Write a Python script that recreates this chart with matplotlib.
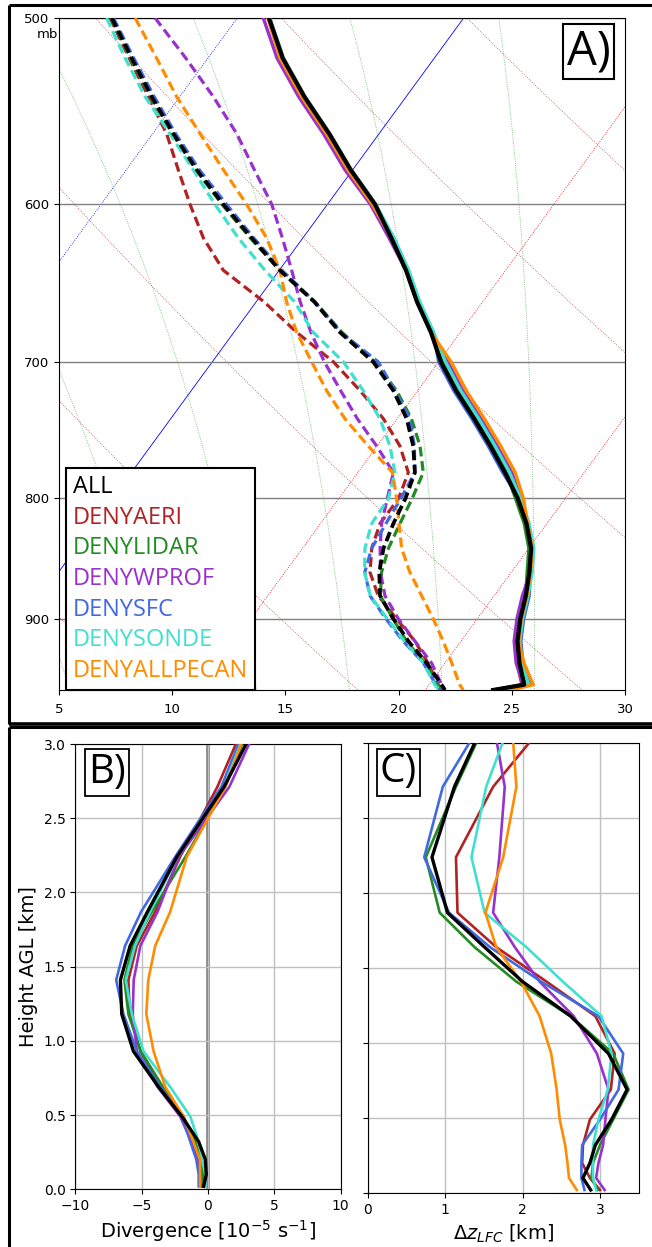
import numpy as np
import matplotlib.pyplot as plt
from matplotlib.lines import Line2D
from matplotlib.ticker import NullLocator

W, H = 652, 1247

names = ['ALL', 'DENYAERI', 'DENYLIDAR', 'DENYWPROF', 'DENYSFC', 'DENYSONDE', 'DENYALLPECAN']
colors = ['black', 'firebrick', 'forestgreen', 'darkorchid', 'royalblue', 'turquoise', 'darkorange']

# skew-T profiles: pressure [mb], temperature / dewpoint [degC]
pres = [500, 520, 540, 560, 580, 600, 620, 640, 660, 680, 700, 720, 740,
        760, 780, 800, 820, 840, 860, 880, 900, 920, 940, 960, 965]

temp_all = [-8.6, -6.7, -4.5, -2.2, -0.1, 2.1, 3.9, 5.6, 7.1, 8.7, 10.1, 11.7, 13.4,
            15.0, 16.5, 17.9, 19.1, 20.1, 20.8, 21.4, 21.9, 22.5, 23.3, 24.2, 23.0]
temp_aeri = [-8.57, -6.67, -4.47, -2.17, -0.07, 2.13, 3.93, 5.63, 7.13, 8.73, 10.2, 11.8, 13.5,
             15.1, 16.6, 17.9, 19.1, 20.1, 20.8, 21.3, 21.8, 22.4, 23.2, 24.1, 23.0]
temp_lidar = [-8.6, -6.7, -4.5, -2.2, -0.1, 2.1, 3.9, 5.6, 7.1, 8.7, 10.15, 11.75, 13.45,
              15.05, 16.55, 17.8, 19.0, 20.0, 20.7, 21.4, 21.9, 22.5, 23.3, 24.25, 23.2]
temp_wprof = [-8.85, -6.95, -4.75, -2.45, -0.35, 1.9, 3.8, 5.6, 7.1, 8.7, 10.4, 12.0, 13.7,
              15.3, 16.8, 18.05, 19.15, 20.15, 20.85, 21.25, 21.75, 22.35, 23.15, 24.15, 23.1]
temp_sfc = [-8.6, -6.7, -4.5, -2.2, -0.1, 2.1, 4.0, 5.7, 7.2, 8.8, 10.0, 11.6, 13.3,
            14.9, 16.4, 17.95, 19.15, 20.15, 20.85, 21.55, 22.05, 22.65, 23.45, 24.5, 23.4]
temp_sonde = [-8.57, -6.67, -4.47, -2.17, -0.07, 2.13, 4.02, 5.72, 7.22, 8.82, 10.3, 11.9, 13.6,
              15.2, 16.7, 18.02, 19.22, 20.22, 20.92, 21.5, 22.0, 22.6, 23.4, 24.4, 23.3]
temp_pecan = [-8.65, -6.82, -4.62, -2.32, -0.22, 1.98, 3.9, 5.6, 7.1, 8.7, 10.55, 12.15, 13.85,
              15.45, 16.95, 18.15, 19.15, 20.15, 20.85, 21.45, 21.95, 22.55, 23.5, 24.6, 23.8]

dwpt_all = [-15.54, -13.37, -11.24, -9.08, -6.9, -4.6, -2.27, 0.03, 2.56, 4.68, 7.11, 8.93, 10.42,
            11.59, 12.52, 12.94, 13.22, 13.58, 14.17, 14.96, 16.29, 17.68, 19.2, 20.55, 20.87]
dwpt_aeri = [-15.62, -13.48, -11.39, -9.38, -7.71, -6.07, -4.4, -2.47, 0.34, 2.77, 5.35, 7.46, 9.39,
             11.0, 12.23, 12.64, 12.63, 13.06, 13.76, 14.88, 16.43, 17.97, 19.26, 20.4, 20.72]
dwpt_lidar = [-15.57, -13.43, -11.28, -9.13, -6.93, -4.66, -2.33, 0.02, 2.59, 4.77, 7.18, 9.07, 10.63,
              11.89, 12.89, 13.24, 13.51, 13.8, 14.27, 14.98, 16.27, 17.6, 19.11, 20.4, 20.67]
dwpt_wprof = [-13.63, -10.98, -8.52, -6.28, -4.35, -2.46, -0.91, 0.55, 1.94, 3.4, 4.95, 6.6, 8.24,
              9.97, 11.57, 12.14, 12.7, 13.43, 14.22, 15.18, 16.51, 17.97, 19.42, 20.55, 20.87]
dwpt_sfc = [-15.47, -13.28, -11.13, -8.98, -6.78, -4.46, -2.18, 0.12, 2.59, 4.72, 7.33, 9.0, 10.56,
            11.64, 12.52, 12.74, 12.89, 13.06, 13.53, 14.52, 15.96, 17.45, 19.06, 20.3, 20.65]
dwpt_sonde = [-15.77, -13.66, -11.53, -9.23, -7.05, -4.97, -2.86, -0.63, 1.69, 3.5, 5.79, 7.6, 9.24,
              10.56, 11.64, 12.19, 12.26, 12.76, 13.52, 14.53, 16.02, 17.5, 19.06, 20.25, 20.62]
dwpt_pecan = [-14.51, -12.27, -10.14, -7.9, -5.72, -3.57, -1.61, 0.03, 1.34, 2.77, 4.39, 5.98, 7.69,
              9.6, 11.53, 12.55, 13.47, 14.38, 15.52, 16.8, 18.05, 19.22, 20.31, 21.35, 21.68]

# vertical profiles of divergence [1e-5 s-1] and LFC displacement [km]
z_agl = [0.02, 0.10, 0.20, 0.32, 0.49, 0.69, 0.93, 1.18, 1.41, 1.64, 1.87, 2.24, 2.71, 3.0]

div_all = [-0.33, -0.13, -0.2, -0.7, -1.96, -3.73, -5.62, -6.5, -6.6, -5.87, -4.56, -2.34, 1.2, 2.87]
div_aeri = [-0.45, -0.5, -0.7, -1.2, -1.9, -3.48, -5.1, -5.9, -6.0, -5.37, -3.98, -2.1, 0.7, 2.1]
div_lidar = [-0.4, -0.38, -0.53, -0.96, -1.84, -3.4, -5.06, -6.0, -6.3, -5.67, -4.23, -1.7, 1.3, 2.57]
div_wprof = [-0.53, -0.55, -0.65, -1.25, -2.09, -3.8, -5.36, -5.67, -5.6, -5.1, -3.8, -2.2, 1.6, 3.1]
div_sfc = [-0.7, -0.7, -0.88, -1.33, -1.96, -3.6, -5.36, -6.37, -6.92, -6.25, -5.04, -2.47, 1.0, 2.3]
div_sonde = [-0.2, -0.2, -0.45, -0.7, -1.33, -2.85, -4.86, -5.74, -6.2, -5.5, -4.36, -2.3, 1.2, 2.45]
div_pecan = [-0.6, -0.6, -0.6, -1.1, -1.84, -3.22, -4.1, -4.65, -4.5, -3.98, -2.85, -1.6, 1.3, 2.5]

dz_all = [2.88, 2.78, 2.87, 2.94, 3.15, 3.35, 3.11, 2.62, 2.0, 1.51, 1.03, 0.83, 1.12, 1.38]
dz_aeri = [3.0, 2.87, 2.77, 2.78, 2.87, 3.14, 3.19, 2.94, 2.31, 1.66, 1.16, 1.14, 1.62, 2.08]
dz_lidar = [2.97, 2.89, 2.91, 3.0, 3.17, 3.37, 3.17, 2.62, 1.92, 1.38, 0.93, 0.75, 1.14, 1.40]
dz_wprof = [3.06, 2.95, 2.98, 3.04, 3.07, 3.11, 2.96, 2.66, 2.22, 1.9, 1.62, 1.70, 1.77, 1.67]
dz_sfc = [2.8, 2.76, 2.76, 2.77, 3.0, 3.24, 3.30, 2.98, 2.24, 1.58, 1.05, 0.73, 0.97, 1.31]
dz_sonde = [2.95, 2.91, 2.91, 2.91, 2.98, 3.1, 3.15, 3.02, 2.52, 2.05, 1.51, 1.34, 1.53, 1.74]
dz_pecan = [2.70, 2.6, 2.58, 2.55, 2.48, 2.44, 2.37, 2.22, 1.98, 1.66, 1.52, 1.75, 1.92, 1.88]

temps = [temp_all, temp_aeri, temp_lidar, temp_wprof, temp_sfc, temp_sonde, temp_pecan]
dwpts = [dwpt_all, dwpt_aeri, dwpt_lidar, dwpt_wprof, dwpt_sfc, dwpt_sonde, dwpt_pecan]
divs = [div_all, div_aeri, div_lidar, div_wprof, div_sfc, div_sonde, div_pecan]
dzs = [dz_all, dz_aeri, dz_lidar, dz_wprof, dz_sfc, dz_sonde, dz_pecan]

SKEW = 33.0          # degC of skew per ln(1000/p)
P_BOT, P_TOP = 965.0, 500.0


def skewx(t, p):
    return np.asarray(t, float) + SKEW * np.log(1000.0 / np.asarray(p, float))


def moist_adiabat(t0, p):
    # pseudo-adiabat from t0 [degC] at p[0], simple RK4 in pressure
    def dtdp(T, pr):
        tc = T - 273.15
        es = 6.112 * np.exp(17.67 * tc / (tc + 243.5))
        rs = 0.622 * es / (pr - es)
        num = 287.04 * T + 2.501e6 * rs
        den = 1005.7 + (2.501e6 ** 2 * rs * 0.622) / (287.04 * T ** 2)
        return num / (den * pr)
    out = [t0 + 273.15]
    for i in range(len(p) - 1):
        T, p1, dp = out[-1], p[i], p[i + 1] - p[i]
        k1 = dtdp(T, p1)
        k2 = dtdp(T + 0.5 * dp * k1, p1 + 0.5 * dp)
        k3 = dtdp(T + 0.5 * dp * k2, p1 + 0.5 * dp)
        k4 = dtdp(T + dp * k3, p1 + dp)
        out.append(T + dp * (k1 + 2 * k2 + 2 * k3 + k4) / 6.0)
    return np.array(out) - 273.15


def px_axes(left, top, right, bottom):
    return fig.add_axes([left / W, 1 - bottom / H, (right - left) / W, (bottom - top) / H])


def fig_line(xs, ys, lw=2.2):
    fig.add_artist(Line2D(np.array(xs) / W, 1 - np.array(ys) / H, color='k', lw=lw,
                          transform=fig.transFigure, solid_capstyle='butt'))


fig = plt.figure(figsize=(W / 100, H / 100), dpi=100)

# ---------------- A) skew-T ----------------
ax = px_axes(59, 18, 625, 690)
ax.set_yscale('log')
pp = np.linspace(1000, 470, 300)

for t in range(-30, 50, 10):
    if t < 0:
        c, ls = 'blue', ':'
    elif t == 0:
        c, ls = 'blue', '-'
    else:
        c, ls = 'red', ':'
    ax.plot(skewx(np.full_like(pp, t), pp), pp, color=c, ls=ls, lw=0.6, zorder=1)

for th in np.arange(-40, 201, 10) + 273.15:
    tt = th * (pp / 1000.0) ** 0.2857 - 273.15
    ax.plot(skewx(tt, pp), pp, color='#a52a2a', ls=':', lw=0.6, alpha=0.8, zorder=1)

for t0 in [-6, -2, 2, 6, 10, 14, 18, 22, 26, 30, 34]:
    ax.plot(skewx(moist_adiabat(t0, pp), pp), pp, color='green', ls=':', lw=0.6,
            alpha=0.6, zorder=1)

for i in list(range(1, 7)) + [0]:
    lw_t = 3.0 if i == 0 else 2.4
    lw_d = 2.7 if i == 0 else 2.3
    ax.plot(skewx(temps[i], pres), pres, color=colors[i], lw=lw_t, zorder=4 + (i == 0))
    ax.plot(skewx(dwpts[i], pres), pres, color=colors[i], lw=lw_d,
            dashes=(7.0 / lw_d, 3.4 / lw_d), zorder=4 + (i == 0))

ax.set_ylim(P_BOT, P_TOP)
ax.set_xlim(5, 30)
ax.yaxis.set_minor_locator(NullLocator())
ax.set_yticks([500, 600, 700, 800, 900])
ax.set_yticklabels(['500', '600', '700', '800', '900'])
ax.set_xticks([5, 10, 15, 20, 25, 30])
ax.tick_params(labelsize=9.5)
ax.tick_params(axis='x', pad=6)
ax.yaxis.grid(True, color='gray', lw=1.0)
fig.text(47 / W, 1 - 35 / H, 'mb', ha='center', va='center', fontsize=9.5)

handles = [Line2D([], [], color=c, lw=0) for c in colors]
leg = ax.legend(handles, names, loc='lower left', bbox_to_anchor=(0.0124, 0.0),
                borderaxespad=0, handlelength=0, handletextpad=0, labelcolor=colors,
                prop={'family': 'Open Sans', 'size': 17}, fancybox=False,
                edgecolor='black', framealpha=1, labelspacing=0.28, borderpad=0.3)
leg.get_frame().set_linewidth(1.5)
leg.set_zorder(10)

ax.text(0.9355, 0.950, 'A)', transform=ax.transAxes, ha='center', va='center',
        fontsize=34, family='Open Sans', zorder=11,
        bbox=dict(boxstyle='square,pad=0.08', fc='white', ec='black', lw=1.5))

# ---------------- B) divergence ----------------
axb = px_axes(75.3, 744, 340.7, 1189.3)
axb.axvline(0, color='gray', lw=2.6, zorder=1)
for i in list(range(1, 7)) + [0]:
    axb.plot(divs[i], z_agl, color=colors[i], lw=2.4 if i == 0 else 1.9, zorder=3 + (i == 0))
axb.set_xlim(-10, 10)
axb.set_ylim(0, 3)
axb.set_xticks([-10, -5, 0, 5, 10])
axb.set_yticks(np.arange(0, 3.01, 0.5))
axb.grid(True, color='#c0c0c0', lw=1.0)
axb.tick_params(labelsize=10)
axb.set_xlabel('Divergence [$10^{-5}$ s$^{-1}$]', fontsize=14)
axb.set_ylabel('Height AGL [km]', fontsize=14)
axb.text(0.1194, 0.935, 'B)', transform=axb.transAxes, ha='center', va='center',
         fontsize=29, family='Open Sans', zorder=11,
         bbox=dict(boxstyle='square,pad=0.08', fc='white', ec='black', lw=1.3))

# ---------------- C) LFC displacement ----------------
axc = px_axes(367.7, 743.3, 638.7, 1193)
for i in list(range(1, 7)) + [0]:
    axc.plot(dzs[i], z_agl, color=colors[i], lw=2.4 if i == 0 else 1.9, zorder=3 + (i == 0))
axc.set_xlim(0, 3.5)
axc.set_ylim(0, 3)
axc.set_xticks([0, 1, 2, 3])
axc.set_yticks(np.arange(0, 3.01, 0.5))
axc.tick_params(labelsize=10, labelleft=False)
axc.grid(True, color='#c0c0c0', lw=1.0)
axc.set_xlabel('$\\Delta z_{LFC}$ [km]', fontsize=14)
axc.text(0.1137, 0.936, 'C)', transform=axc.transAxes, ha='center', va='center',
         fontsize=29, family='Open Sans', zorder=11,
         bbox=dict(boxstyle='square,pad=0.08', fc='white', ec='black', lw=1.3))

# panel frames
fig_line([9, 652], [5, 5])
fig_line([9, 9], [5, 724])
fig_line([9, 652], [723.5, 723.5], lw=2.6)
fig_line([9, 652], [727, 727], lw=2.2)
fig_line([9, 9], [727, 1247])

fig.savefig('out.png', dpi=100)
